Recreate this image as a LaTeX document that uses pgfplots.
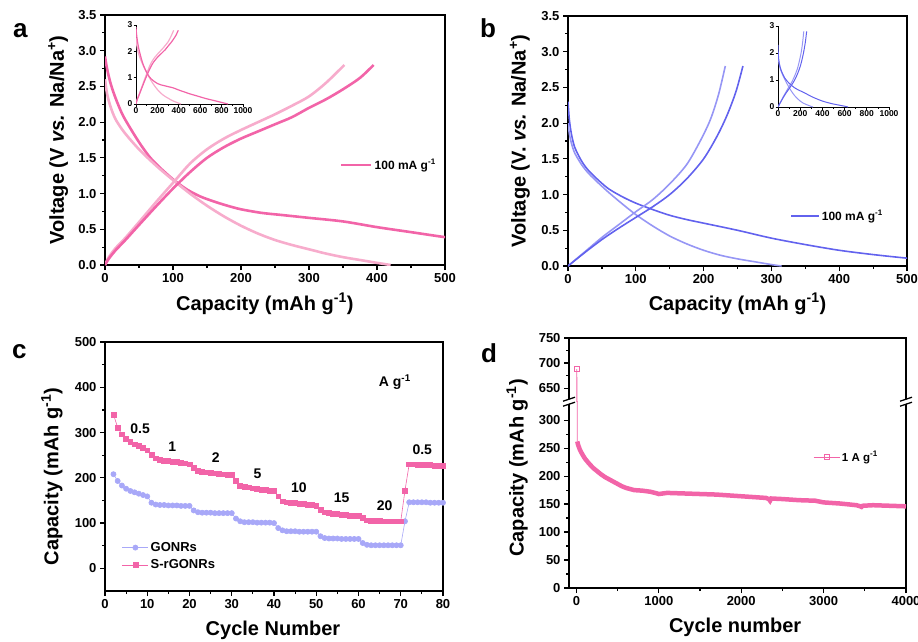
\documentclass[border=0pt]{standalone}
\usepackage{fontspec}
\setmainfont{Liberation Sans}
\usepackage{pgfplots}
\pgfplotsset{compat=1.18}
\usepackage{pgfplotstable}

\definecolor{pkD}{RGB}{242,100,168}
\definecolor{pkL}{RGB}{247,172,204}
\definecolor{blD}{RGB}{98,98,238}
\definecolor{blL}{RGB}{150,150,245}
\definecolor{gon}{RGB}{168,168,248}

% ---- panel a: galvanostatic curves (pink)
\pgfplotstableread{
x y
0 2.92
3 2.75
8 2.55
15 2.35
25 2.12
35 1.95
50 1.72
65 1.52
80 1.37
100 1.20
120 1.06
140 0.96
160 0.89
180 0.83
200 0.78
230 0.73
260 0.70
300 0.66
350 0.61
400 0.53
450 0.46
500 0.39
550 0.33
600 0.27
650 0.21
700 0.16
750 0.11
800 0.06
860 0.00
}\aDd
\pgfplotstableread{
x y
0 2.60
3 2.40
8 2.22
15 2.05
25 1.90
35 1.78
50 1.62
65 1.48
80 1.35
100 1.19
125 1.00
150 0.83
175 0.68
200 0.55
225 0.44
250 0.35
275 0.28
300 0.22
325 0.16
350 0.11
375 0.07
400 0.03
420 0.00
}\aLd
\pgfplotstableread{
x y
0 0.00
5 0.08
15 0.20
30 0.35
50 0.56
75 0.82
100 1.07
125 1.30
150 1.50
175 1.65
200 1.77
225 1.87
250 1.97
275 2.07
300 2.20
325 2.32
350 2.46
375 2.62
395 2.80
}\aDc
\pgfplotstableread{
x y
0 0.00
5 0.10
15 0.23
30 0.38
50 0.60
75 0.88
100 1.15
125 1.42
150 1.62
175 1.77
200 1.89
225 2.00
250 2.11
275 2.23
300 2.36
325 2.55
352 2.80
}\aLc

% ---- panel b (blue)
\pgfplotstableread{
x y
0 2.30
2 2.05
5 1.85
10 1.66
20 1.47
30 1.34
45 1.20
60 1.08
80 0.97
100 0.88
125 0.79
150 0.71
175 0.65
200 0.60
250 0.50
300 0.39
350 0.30
400 0.22
450 0.16
500 0.11
550 0.07
600 0.03
630 0.00
}\bDd
\pgfplotstableread{
x y
0 2.00
2 1.85
5 1.72
10 1.58
20 1.42
30 1.30
45 1.16
60 1.03
80 0.87
100 0.72
125 0.56
150 0.42
175 0.31
200 0.22
225 0.15
250 0.10
275 0.06
300 0.02
315 0.00
}\bLd
\pgfplotstableread{
x y
0 0.00
25 0.19
50 0.37
75 0.53
100 0.68
125 0.83
150 1.00
175 1.22
200 1.50
220 1.82
235 2.12
248 2.45
258 2.80
}\bDc
\pgfplotstableread{
x y
0 0.00
25 0.20
50 0.40
75 0.58
100 0.76
125 0.93
150 1.15
175 1.42
195 1.75
210 2.05
222 2.40
232 2.80
}\bLc

% ---- panel c: rate capability
\pgfplotstableread{
x y
2 208
3 193
4 183
5 176
6 171
7 168
8 165
9 162
10 159
11 145
12 141
13 140
14 140
15 139
16 139
17 139
18 138
19 138
20 138
21 128
22 124
23 123
24 123
25 123
26 122
27 122
28 122
29 122
30 122
31 110
32 104
33 102
34 102
35 102
36 101
37 101
38 101
39 101
40 100
41 89
42 84
43 82
44 82
45 82
46 81
47 81
48 81
49 81
50 81
51 71
52 67
53 66
54 66
55 66
56 65
57 65
58 65
59 65
60 65
61 56
62 52
63 51
64 51
65 51
66 51
67 51
68 51
69 51
70 51
71 104
72 146
73 146
74 146
75 146
76 146
77 145
78 145
79 145
80 145
}\gonrs
\pgfplotstableread{
x y
2 340
3 311
4 296
5 286
6 279
7 274
8 270
9 266
10 261
11 250
12 243
13 240
14 238
15 237
16 236
17 235
18 234
19 232
20 230
21 222
22 215
23 213
24 212
25 211
26 210
27 209
28 208
29 207
30 206
31 194
32 183
33 181
34 179
35 177
36 175
37 174
38 173
39 172
40 171
41 159
42 148
43 146
44 145
45 144
46 143
47 142
48 141
49 140
50 139
51 130
52 124
53 122
54 121
55 120
56 119
57 118
58 117
59 117
60 116
61 112
62 106
63 105
64 105
65 105
66 104
67 104
68 104
69 104
70 104
71 172
72 230
73 230
74 229
75 229
76 228
77 228
78 227
79 227
80 226
}\srgonrs

% ---- panel d: long cycling at 1 A/g
\pgfplotstableread{
x y
10 262
20 256
40 248
60 242
80 237
100 232
150 223
200 215
250 209
300 203
350 198
400 194
450 190
500 186
550 182
600 179
650 177
700 175
800 174
900 172
980 169
1000 168
1100 170
1300 169
1500 168
1700 167
1900 165
2100 163
2300 161
2335 159
2350 156
2365 160
2500 159
2700 157
2900 156
3000 153
3200 151
3400 148
3445 146
3460 145
3475 147
3600 148
3800 147
4000 146
}\cyc
\pgfplotstableread{
x y
5 688
10 262
}\first

\pgfplotsset{
  panel/.style={
    scale only axis,
    axis line style={line width=1.5pt},
    xtick pos=left, ytick pos=left,
    tick align=outside,
    major tick length=5pt, minor tick length=3pt,
    every tick/.style={black, line width=1.2pt},
    ticklabel style={font=\fontsize{13}{13}\selectfont\bfseries},
    label style={font=\fontsize{20}{20}\selectfont\bfseries},
    /pgf/number format/assume math mode=true,
    /pgf/number format/set thousands separator={},
    legend style={draw=none, fill=none, inner sep=0pt},
    legend cell align=left,
  },
  inset/.style={
    scale only axis,
    axis x line*=bottom, axis y line*=left,
    axis line style={line width=1pt},
    tick align=outside,
    major tick length=2.5pt, minor tick length=1.5pt,
    every tick/.style={black, line width=0.8pt},
    ticklabel style={font=\fontsize{8.5}{8.5}\selectfont\bfseries, inner sep=1pt},
    /pgf/number format/assume math mode=true,
    /pgf/number format/set thousands separator={},
    xmin=0, xmax=1000, ymin=0, ymax=3,
    xtick={0,200,...,1000}, minor x tick num=1,
    ytick={0,1,2,3},
  },
  vfmt/.style={yticklabel style={/pgf/number format/.cd, fixed, fixed zerofill, precision=1}},
}

\newcommand{\plab}[1]{\fontsize{26}{26}\selectfont\bfseries #1}

\begin{document}
\begin{tikzpicture}
\useasboundingbox (0,0) rectangle (918pt,-642pt);

% ================= a
\begin{axis}[panel, vfmt, at={(105pt,-265pt)}, anchor=south west,
  width=340pt, height=250pt,
  xmin=0, xmax=500, ymin=0, ymax=3.5,
  xtick={0,100,...,500}, minor x tick num=1,
  ytick={0,0.5,...,3.5}, minor y tick num=1,
  xlabel={Capacity (mAh g\textsuperscript{-1})},
  ylabel={Voltage (V \textit{vs.} Na/Na\textsuperscript{+})},
  xlabel style={at={(axis description cs:0.47,-0.156)}, anchor=center},
  ylabel style={at={(axis description cs:-0.138,0.5)}, anchor=center},
  legend style={at={(axis description cs:0.691,0.4)}, anchor=west,
    font=\fontsize{12}{12}\selectfont\bfseries},
  legend image code/.code={\draw[#1] (0pt,0pt) -- (30pt,0pt);},
]
\addplot[pkD, line width=2.6pt, smooth] table {\aDd};
\addlegendentry{100 mA g\textsuperscript{-1}}
\addplot[pkL, line width=2.6pt, smooth, forget plot] table {\aLd};
\addplot[pkL, line width=2.6pt, smooth, forget plot] table {\aLc};
\addplot[pkD, line width=2.6pt, smooth, forget plot] table {\aDc};
\end{axis}

\begin{axis}[inset, at={(136pt,-104pt)}, anchor=south west, width=107pt, height=79pt]
\addplot[pkL, line width=1.2pt, smooth] table {\aLd};
\addplot[pkL, line width=1.2pt, smooth] table {\aLc};
\addplot[pkD, line width=1.2pt, smooth] table {\aDd};
\addplot[pkD, line width=1.2pt, smooth] table {\aDc};
\end{axis}

% ================= b
\begin{axis}[panel, vfmt, at={(568pt,-266pt)}, anchor=south west,
  width=339pt, height=250pt,
  xmin=0, xmax=500, ymin=0, ymax=3.5,
  xtick={0,100,...,500}, minor x tick num=1,
  ytick={0,0.5,...,3.5}, minor y tick num=1,
  xlabel={Capacity (mAh g\textsuperscript{-1})},
  ylabel={Voltage (V. \textit{vs.} Na/Na\textsuperscript{+})},
  xlabel style={at={(axis description cs:0.5,-0.152)}, anchor=center},
  ylabel style={at={(axis description cs:-0.142,0.5)}, anchor=center},
  legend style={at={(axis description cs:0.655,0.2)}, anchor=west,
    font=\fontsize{12}{12}\selectfont\bfseries},
  legend image code/.code={\draw[#1] (0pt,0pt) -- (28pt,0pt);},
]
\addplot[blD, line width=1.6pt, smooth] table {\bDd};
\addlegendentry{100 mA g\textsuperscript{-1}}
\addplot[blL, line width=1.6pt, smooth, forget plot] table {\bLd};
\addplot[blL, line width=1.6pt, smooth, forget plot] table {\bLc};
\addplot[blD, line width=1.6pt, smooth, forget plot] table {\bDc};
\end{axis}

\begin{axis}[inset, at={(778pt,-107pt)}, anchor=south west, width=111pt, height=81pt]
\addplot[blL, line width=1pt, smooth] table {\bLd};
\addplot[blL, line width=1pt, smooth] table {\bLc};
\addplot[blD, line width=1pt, smooth] table {\bDd};
\addplot[blD, line width=1pt, smooth] table {\bDc};
\end{axis}

% ================= c
\begin{axis}[panel, at={(105pt,-591pt)}, anchor=south west,
  width=338pt, height=249pt,
  xmin=0, xmax=80, ymin=-50, ymax=500,
  xtick={0,10,...,80}, minor x tick num=1,
  ytick={0,100,...,500}, minor y tick num=1,
  xlabel={Cycle Number},
  ylabel={Capacity (mAh g\textsuperscript{-1})},
  xlabel style={at={(axis description cs:0.497,-0.157)}, anchor=center},
  ylabel style={at={(axis description cs:-0.157,0.46)}, anchor=center},
  legend style={at={(axis description cs:0.05,0.139)}, anchor=west,
    font=\fontsize{13}{13}\selectfont\bfseries, row sep=3pt},
  legend image code/.code={\draw[mark repeat=2, mark phase=2, #1]
    plot coordinates {(0pt,0pt) (13pt,0pt) (26pt,0pt)};},
]
\addplot[gon, line width=0.6pt, mark=*, mark size=2.6pt] table {\gonrs};
\addlegendentry{GONRs}
\addplot[pkD, line width=0.6pt, mark=square*, mark size=2.4pt] table {\srgonrs};
\addlegendentry{S-rGONRs}
\begin{scope}[every node/.style={font=\fontsize{14}{14}\selectfont\bfseries}]
\node at (axis cs:8.3,308) {0.5};
\node at (axis cs:15.9,269) {1};
\node at (axis cs:26.2,244) {2};
\node at (axis cs:36.1,208) {5};
\node at (axis cs:45.9,179) {10};
\node at (axis cs:56,155) {15};
\node at (axis cs:66.2,139) {20};
\node at (axis cs:75.1,263) {0.5};
\node at (axis cs:68.6,412) {A g\textsuperscript{-1}};
\end{scope}
\end{axis}

% ================= d (broken y axis: two stacked axes, horizontal frame lines drawn below)
\begin{axis}[panel, at={(569pt,-588pt)}, anchor=south west,
  width=337pt, height=186.3pt,
  separate axis lines, x axis line style={draw=none},
  xmin=-90, xmax=4000, ymin=0, ymax=333,
  xtick={0,1000,...,4000}, minor x tick num=1,
  ytick={0,50,...,300}, minor y tick num=1,
  xlabel={Cycle number},
  ylabel={Capacity (mAh g\textsuperscript{-1})},
  xlabel style={at={(axis description cs:0.493,-0.209)}, anchor=center},
  ylabel style={at={(axis description cs:-0.154,0.644)}, anchor=center},
  legend style={at={(axis description cs:0.724,0.703)}, anchor=west,
    font=\fontsize{11.5}{11.5}\selectfont\bfseries},
  legend image code/.code={\draw[mark repeat=2, mark phase=2, #1]
    plot coordinates {(0pt,0pt) (13pt,0pt) (26pt,0pt)};},
]
\addlegendimage{pkD, line width=0.8pt, mark=square, mark size=2.4pt, mark options={fill=white}}
\addlegendentry{1 A g\textsuperscript{-1}}
\addplot[pkD, line width=0.8pt, forget plot] table {\first};
\addplot[pkD, line width=4.5pt, forget plot] table {\cyc};
\end{axis}

\begin{axis}[panel, at={(569pt,-401.7pt)}, anchor=south west,
  width=337pt, height=63.7pt,
  separate axis lines, x axis line style={draw=none},
  xmin=-90, xmax=4000, ymin=623, ymax=750,
  xtick=\empty,
  ytick={650,700,750}, minor y tick num=1,
]
\addplot[pkD, line width=0.8pt, mark=square, mark size=2.4pt,
  mark options={fill=white}, mark indices={1}] table {\first};
\end{axis}

\draw[line width=1.5pt, line cap=rect] (569pt,-588pt) -- (906pt,-588pt);
\draw[line width=1.5pt, line cap=rect] (569pt,-338pt) -- (906pt,-338pt);

% axis break marks
\foreach \bx in {569pt,906pt}{
  \draw[white, line width=4pt] (\bx-6pt,-403.7pt) -- (\bx+6pt,-399.7pt);
  \draw[line width=1.2pt] (\bx-6pt,-406.2pt) -- (\bx+6pt,-402.2pt);
  \draw[line width=1.2pt] (\bx-6pt,-401.2pt) -- (\bx+6pt,-397.2pt);
}

% panel letters
\node[anchor=base west, inner sep=0pt] at (13pt,-38pt) {\plab{a}};
\node[anchor=base west, inner sep=0pt] at (480pt,-38pt) {\plab{b}};
\node[anchor=base west, inner sep=0pt] at (12pt,-358pt) {\plab{c}};
\node[anchor=base west, inner sep=0pt] at (481pt,-362pt) {\plab{d}};
\end{tikzpicture}
\end{document}
